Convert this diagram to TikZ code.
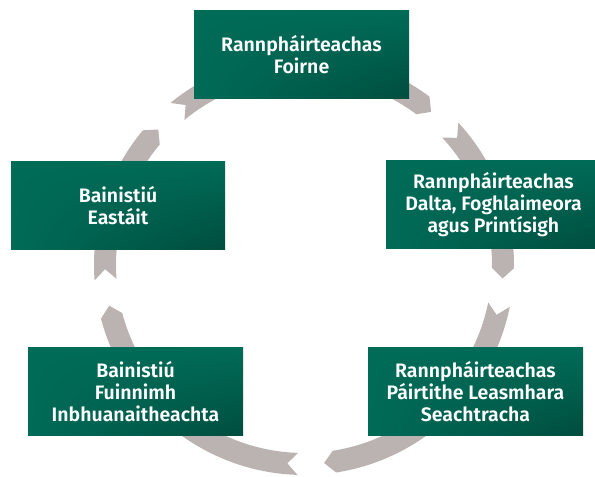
\documentclass[tikz,border=0pt]{standalone}
\usepackage{fontspec}
\usetikzlibrary{shadings}
\newfontfamily\labelfont{Fira Sans SemiBold}
\definecolor{boxgreen}{HTML}{006B57}
\definecolor{boxdark}{HTML}{004D3E}
\definecolor{ringgray}{HTML}{BBB3B1}
\begin{document}
\begin{tikzpicture}[x=1pt, y=1pt,
    stage/.style={minimum width=215pt, minimum height=88pt, inner sep=0pt,
      upper left=boxgreen, upper right=boxgreen, lower left=boxgreen, lower right=boxdark,
      text=white, align=center, font=\labelfont\fontsize{19.5}{22}\selectfont},
    ringarc/.style={fill=ringgray}]
  \useasboundingbox (0,0) rectangle (595,477);

  % Ring of arrows
  \begin{scope}[shift={(304,212)}]
    \foreach \t/\h in {42.7/-3.9, -11.5/-84.2, -91.8/-168.2, 184.2/137.1, 129.5/50.3} {
      \fill[ringarc] (\t:210pt) arc[start angle=\t, end angle=\h+3, radius=210pt]
        -- (\h:199pt) -- ({\h+3}:188pt) arc[start angle=\h+3, end angle=\t, radius=188pt]
        -- ({\t-3}:199pt) -- cycle;
    }
  \end{scope}

  % Nodes
  \node[stage] (staff) at (301.5,422) {Rannpháirteachas\\Foirne};
  \node[stage] (learners) at (493.5,272) {Rannpháirteachas\\Dalta, Foghlaimeora\\agus Printísigh};
  \node[stage] (stakeholders) at (475.5,85.5) {Rannpháirteachas\\Páirtithe Leasmhara\\Seachtracha};
  \node[stage] (energy) at (135.5,85) {Bainistiú\\Fuinnimh\\Inbhuanaitheachta};
  \node[stage, minimum width=214pt] (estates) at (118,271.5) {Bainistiú\\Eastáit};
\end{tikzpicture}
\end{document}
